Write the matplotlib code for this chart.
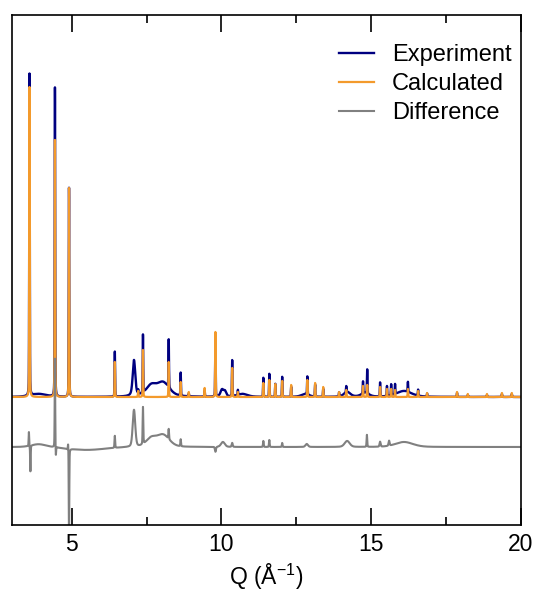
import matplotlib
matplotlib.use("Agg")
import matplotlib.pyplot as plt
import numpy as np

plt.rcParams['font.family'] = ['Liberation Sans', 'DejaVu Sans']
plt.rcParams['mathtext.default'] = 'regular'

# Bragg peak positions (Q, 1/A) shared by experiment and calculation
peak_q = [3.59, 4.44, 4.91, 6.44, 7.22, 7.38, 8.24, 8.64, 8.91, 9.44, 9.80,
          10.36, 10.55, 11.40, 11.60, 11.80, 12.03, 12.33, 12.87, 13.13, 13.40,
          13.93, 14.17, 14.73, 14.87, 15.30, 15.53, 15.67, 15.80, 16.23, 16.57,
          16.87, 17.87, 18.23, 18.87, 19.37, 19.70]
calc_height = [310, 257, 209, 35, 6, 47, 35, 15, 5, 9, 65,
               29, 5, 14, 17, 13, 16, 12, 17, 14, 10,
               5, 7, 11, 12, 10, 8, 8, 7, 8, 6,
               4, 5, 3, 3, 4, 4]
exp_height = [322, 309, 209, 45, 4, 58, 48, 23, 3, 6, 60,
              36, 5, 19, 23, 13, 20, 10, 18, 12, 8,
              4, 6, 12, 24, 14, 10, 11, 10, 10, 6,
              3, 4, 2, 2, 3, 3]

# broad (non-Bragg) contributions seen only in the experiment
exp_broad_q = [3.90, 7.08, 7.65, 8.05, 10.02, 10.12, 10.70, 12.80, 14.20, 14.80, 16.10]
exp_broad_h = [3, 36, 10, 14, 7, 5, 3, 3, 5, 4, 6]
exp_broad_w = [0.6, 0.10, 0.4, 0.5, 0.12, 0.10, 0.4, 0.3, 0.25, 0.3, 0.6]

# difference curve features
diff_q = [3.57, 3.62, 3.90, 4.44, 4.47, 4.88, 4.91, 5.50, 6.44, 7.08, 7.38,
          7.65, 8.05, 8.24, 8.64, 9.80, 10.05, 10.36, 11.40, 11.60, 12.03,
          12.85, 14.20, 14.86, 15.30, 15.60, 16.10]
diff_h = [14, -26, 3, 89, -10, 7, -95, -3, 12, 37, 37,
          8, 12, 10, 7, -5, 5, 4, 6, 7, 4,
          3, 6, 12, 5, 5, 5]
diff_w = [0.02, 0.02, 0.6, 0.02, 0.02, 0.02, 0.02, 1.5, 0.025, 0.10, 0.025,
          0.4, 0.5, 0.025, 0.025, 0.04, 0.15, 0.04, 0.025, 0.025, 0.025,
          0.1, 0.2, 0.025, 0.04, 0.04, 0.7]

diff_offset = -50
sharp_w = 0.02


def pv(q, centre, height, fwhm, eta=0.3):
    g = np.exp(-4 * np.log(2) * ((q - centre) / fwhm) ** 2)
    l = 1 / (1 + 4 * ((q - centre) / fwhm) ** 2)
    return height * (eta * l + (1 - eta) * g)


q = np.linspace(3, 20, 13601)
calc = np.zeros_like(q)
exp = np.zeros_like(q)
for c, hc, he in zip(peak_q, calc_height, exp_height):
    calc += pv(q, c, hc, sharp_w)
    exp += pv(q, c, he, sharp_w)
for c, h, w in zip(exp_broad_q, exp_broad_h, exp_broad_w):
    exp += pv(q, c, h, w, eta=0.5)
diff = np.full_like(q, diff_offset, dtype=float)
for c, h, w in zip(diff_q, diff_h, diff_w):
    diff += pv(q, c, h, w)

fig = plt.figure(figsize=(5.38, 5.93), dpi=100)
ax = fig.add_axes([0.022, 0.1147, 0.946, 0.86])

ax.plot(q, exp, color='#000080', lw=1.7, label='Experiment')
ax.plot(q, calc, color='#f39a2c', lw=1.6, label='Calculated')
ax.plot(q, diff, color='#808080', lw=1.5, label='Difference')

ax.set_xlim(3, 20)
ax.set_ylim(-128, 382)
ax.set_yticks([])
ax.set_xticks([5, 10, 15, 20])
ax.set_xticks([7.5, 12.5, 17.5], minor=True)
ax.tick_params(axis='x', which='major', direction='in', top=True, length=12,
               width=1.2, labelsize=16.5, pad=6)
ax.tick_params(axis='x', which='minor', direction='in', top=True, length=6,
               width=1.2)
for s in ax.spines.values():
    s.set_linewidth(1.2)
ax.set_xlabel('Q (Å$^{-1}$)', fontsize=16.5, labelpad=4)

ax.legend(loc='upper right', bbox_to_anchor=(1.0, 0.961), borderaxespad=0,
          frameon=False, fontsize=17, handlelength=1.48, handletextpad=0.76,
          labelspacing=0.29)

fig.savefig('out.png', dpi=100)
